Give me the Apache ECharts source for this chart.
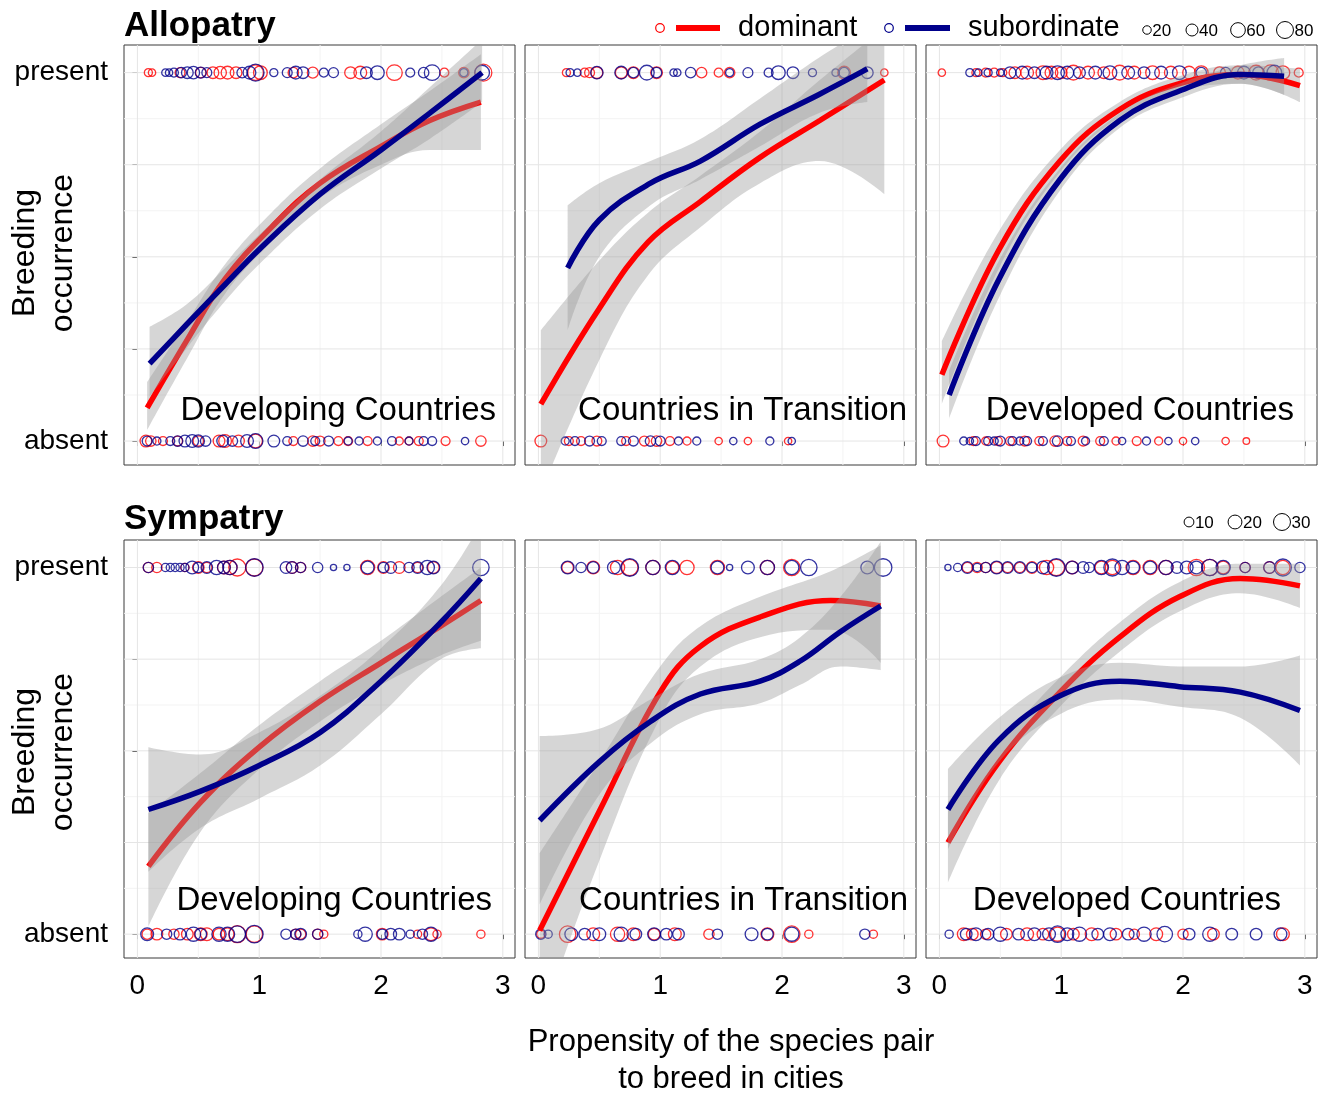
<!DOCTYPE html>
<html>
<head>
<meta charset="utf-8">
<script src="https://cdn.jsdelivr.net/npm/echarts@6/dist/echarts.min.js"></script>
<style>
  html, body { margin: 0; padding: 0; background: #fff; }
  #chart { width: 1325px; height: 1094px; }
</style>
</head>
<body>
<div id="chart"></div>
<script>
// ---- axis definitions ----
const xTicks = [0, 1, 2, 3];
const xMinor = [0.5, 1.5, 2.5];
const yTicks = [0, 0.25, 0.5, 0.75, 1];
const yMinor = [0.125, 0.375, 0.625, 0.875];
const yTickLabels = ['absent', 'present'];   // for y = 0 and y = 1
const panelNames = ['Developing Countries', 'Countries in Transition', 'Developed Countries'];
const rowTitles = ['Allopatry', 'Sympatry'];
const seriesNames = ['dominant', 'subordinate'];
const sizeLegendAllo = [20, 40, 60, 80];
const sizeLegendSym = [10, 20, 30];

// ---- fitted curves: [x, fit, lower, upper] ----
const devAlloDom = [[0.08,0.09,0.03,0.16],[0.4,0.27,0.22,0.32],[0.72,0.44,0.40,0.48],[1.1,0.58,0.54,0.62],[1.5,0.70,0.66,0.74],[2.0,0.80,0.75,0.86],[2.4,0.87,0.79,0.95],[2.82,0.92,0.79,1.05]];
const devAlloSub = [[0.1,0.21,0.12,0.31],[0.4,0.315,0.25,0.37],[0.72,0.425,0.38,0.47],[1.0,0.52,0.48,0.56],[1.5,0.67,0.63,0.71],[2.0,0.79,0.74,0.84],[2.4,0.89,0.82,0.96],[2.83,1.0,0.92,1.09]];
const tranAlloDom = [[0.02,0.10,-0.14,0.30],[0.5,0.36,0.22,0.49],[0.9,0.54,0.45,0.62],[1.33,0.65,0.58,0.72],[1.82,0.77,0.70,0.84],[2.31,0.87,0.76,0.98],[2.84,0.98,0.67,1.12]];
const tranAlloSub = [[0.24,0.47,0.30,0.64],[0.5,0.60,0.50,0.70],[0.92,0.70,0.64,0.76],[1.33,0.76,0.71,0.82],[1.82,0.86,0.80,0.93],[2.3,0.94,0.89,1.04],[2.70,1.01,0.92,1.12]];
const dvdAlloDom = [[0.02,0.18,0.10,0.27],[0.49,0.52,0.47,0.57],[0.99,0.76,0.73,0.79],[1.48,0.90,0.88,0.92],[1.97,0.97,0.95,0.99],[2.47,0.995,0.97,1.02],[2.96,0.965,0.92,1.01]];
const dvdAlloSub = [[0.08,0.125,0.06,0.19],[0.49,0.44,0.39,0.49],[0.99,0.71,0.68,0.74],[1.48,0.87,0.85,0.89],[1.97,0.95,0.93,0.97],[2.47,0.995,0.97,1.02],[2.83,0.99,0.94,1.04]];
const devSymDom = [[0.09,0.185,0.02,0.33],[0.52,0.36,0.28,0.44],[1.0,0.51,0.45,0.57],[1.5,0.635,0.58,0.69],[2.0,0.74,0.68,0.80],[2.49,0.84,0.76,0.92],[2.82,0.91,0.80,1.0]];
const devSymSub = [[0.09,0.34,0.17,0.51],[0.52,0.39,0.29,0.49],[1.0,0.46,0.37,0.55],[1.5,0.55,0.46,0.65],[2.0,0.69,0.60,0.78],[2.49,0.85,0.75,0.95],[2.82,0.97,0.78,1.12]];
const tranSymDom = [[0.01,0.01,-0.25,0.22],[0.5,0.335,0.20,0.47],[1.0,0.66,0.59,0.73],[1.33,0.785,0.73,0.84],[1.82,0.865,0.81,0.92],[2.4,0.91,0.83,0.99],[2.81,0.895,0.74,1.06]];
const tranSymSub = [[0.01,0.31,0.08,0.54],[0.5,0.47,0.38,0.56],[0.92,0.58,0.52,0.64],[1.33,0.655,0.60,0.71],[1.82,0.69,0.63,0.75],[2.15,0.745,0.68,0.81],[2.48,0.825,0.73,0.92],[2.81,0.895,0.72,1.07]];
const dvdSymDom = [[0.07,0.25,0.14,0.36],[0.49,0.47,0.42,0.52],[0.99,0.66,0.62,0.70],[1.48,0.81,0.77,0.85],[1.97,0.92,0.88,0.96],[2.47,0.97,0.93,1.01],[2.96,0.95,0.89,1.01]];
const dvdSymSub = [[0.07,0.34,0.23,0.45],[0.49,0.53,0.47,0.59],[0.99,0.65,0.60,0.70],[1.48,0.69,0.64,0.74],[1.97,0.675,0.62,0.73],[2.47,0.66,0.59,0.73],[2.96,0.61,0.46,0.76]];

// ---- observations: [propensity, number of cases] ----
const devAlloDomPresent = [[0.09,18],[0.12,15],[0.35,27],[0.52,30],[0.62,38],[0.68,42],[0.74,45],[0.81,38],[0.97,68],[1.01,52],[1.28,30],[1.44,33],[1.75,38],[1.83,45],[2.11,68],[2.52,22],[2.68,30],[2.84,80]];
const devAlloSubPresent = [[0.23,15],[0.26,15],[0.30,22],[0.36,30],[0.41,38],[0.46,42],[0.52,33],[0.57,27],[0.86,30],[0.92,45],[0.97,80],[1.12,18],[1.23,27],[1.30,45],[1.36,38],[1.53,22],[1.61,27],[1.88,38],[1.97,52],[2.24,22],[2.35,30],[2.42,68],[2.68,18],[2.83,60]];
const devAlloDomAbsent = [[0.07,38],[0.11,30],[0.21,22],[0.33,27],[0.50,30],[0.67,38],[0.72,45],[0.83,38],[0.97,52],[1.28,22],[1.44,30],[1.50,27],[1.65,22],[1.73,22],[1.89,22],[2.15,18],[2.23,18],[2.31,22],[2.53,22],[2.82,30]];
const devAlloSubAbsent = [[0.08,27],[0.16,18],[0.27,22],[0.33,30],[0.39,38],[0.45,45],[0.50,42],[0.56,30],[0.70,38],[0.78,30],[0.90,45],[0.97,60],[1.12,38],[1.23,22],[1.36,30],[1.46,22],[1.57,27],[1.73,18],[1.82,18],[1.97,18],[2.09,22],[2.23,18],[2.35,22],[2.42,22],[2.69,15]];

const tranAlloDomPresent = [[0.23,18],[0.38,22],[0.42,27],[0.48,38],[0.68,38],[0.78,38],[0.97,38],[1.34,30],[1.48,22],[1.57,30],[2.51,45],[2.84,15]];
const tranAlloSubPresent = [[0.26,18],[0.32,15],[0.48,42],[0.68,45],[0.78,30],[0.89,60],[0.97,30],[1.11,15],[1.14,15],[1.25,30],[1.57,18],[1.72,27],[1.89,22],[1.97,52],[2.09,38],[2.25,18],[2.44,15],[2.51,30],[2.70,38]];
const tranAlloDomAbsent = [[0.02,38],[0.25,22],[0.35,22],[0.48,27],[0.72,22],[0.87,27],[0.97,30],[1.08,22],[1.22,18],[1.48,15],[1.72,15],[2.05,15]];
const tranAlloSubAbsent = [[0.22,18],[0.30,22],[0.42,27],[0.52,22],[0.68,22],[0.78,27],[0.92,30],[1.0,27],[1.15,18],[1.30,18],[1.60,15],[1.90,18],[2.08,15]];

const dvdAlloDomPresent = [[0.02,15],[0.30,18],[0.38,22],[0.45,22],[0.52,18],[0.62,38],[0.72,45],[0.85,52],[0.92,45],[1.00,38],[1.10,60],[1.22,45],[1.35,38],[1.48,60],[1.60,45],[1.75,52],[1.90,45],[2.05,45],[2.15,52],[2.30,38],[2.45,45],[2.60,60],[2.72,68],[2.82,52],[2.95,22]];
const dvdAlloSubPresent = [[0.25,18],[0.32,15],[0.40,18],[0.50,15],[0.58,38],[0.68,45],[0.78,38],[0.88,45],[0.97,52],[1.05,45],[1.15,38],[1.28,45],[1.40,52],[1.55,45],[1.68,38],[1.82,45],[1.97,52],[2.15,30],[2.35,30],[2.50,45],[2.62,38],[2.75,60]];
const dvdAlloDomAbsent = [[0.03,38],[0.28,22],[0.38,18],[0.48,22],[0.58,22],[0.70,27],[0.82,22],[0.95,30],[1.05,22],[1.18,27],[1.32,22],[1.45,18],[1.62,22],[1.80,18],[2.00,15],[2.35,15],[2.52,12]];
const dvdAlloSubAbsent = [[0.20,18],[0.25,15],[0.30,22],[0.40,22],[0.45,18],[0.50,27],[0.60,22],[0.66,18],[0.72,22],[0.85,22],[0.97,30],[1.08,22],[1.20,18],[1.35,22],[1.50,15],[1.70,18],[1.88,15],[2.10,15]];

const devSymDomPresent = [[0.09,11],[0.16,11],[0.39,7],[0.50,14],[0.57,11],[0.71,17],[0.76,21],[0.82,30],[0.96,30],[1.27,14],[1.34,11],[1.89,21],[2.02,14],[2.15,14],[2.30,11],[2.43,14]];
const devSymSubPresent = [[0.09,11],[0.23,7],[0.27,7],[0.31,7],[0.35,7],[0.39,7],[0.45,17],[0.50,11],[0.57,14],[0.65,21],[0.71,17],[0.76,21],[0.96,32],[1.22,14],[1.27,14],[1.34,11],[1.48,11],[1.61,4],[1.72,4],[1.89,17],[2.02,11],[2.08,14],[2.23,11],[2.30,14],[2.38,21],[2.43,17],[2.82,28]];
const devSymDomAbsent = [[0.08,11],[0.16,14],[0.30,11],[0.41,14],[0.52,17],[0.57,17],[0.67,14],[0.74,17],[0.82,30],[0.96,28],[1.30,11],[1.34,11],[1.48,11],[1.53,7],[2.01,14],[2.30,7],[2.41,17],[2.46,7],[2.82,7]];
const devSymSubAbsent = [[0.08,17],[0.24,11],[0.35,14],[0.46,21],[0.52,14],[0.67,21],[0.74,21],[0.82,28],[0.96,32],[1.22,11],[1.30,11],[1.34,14],[1.48,11],[1.81,7],[1.87,21],[2.01,11],[2.08,14],[2.15,14],[2.24,7],[2.34,11],[2.41,21]];

const tranSymDomPresent = [[0.24,14],[0.45,17],[0.65,21],[0.75,28],[0.94,21],[1.10,17],[1.22,21],[1.47,21],[1.88,21],[2.08,28]];
const tranSymSubPresent = [[0.24,17],[0.35,11],[0.45,14],[0.62,17],[0.75,32],[0.94,21],[1.10,21],[1.47,17],[1.57,4],[1.72,17],[1.88,21],[2.08,21],[2.22,28],[2.70,17],[2.83,32]];
const tranSymDomAbsent = [[0.02,7],[0.24,28],[0.45,17],[0.65,21],[0.78,17],[0.95,14],[1.12,17],[1.40,11],[1.88,17],[2.08,28],[2.22,7],[2.75,7]];
const tranSymSubAbsent = [[0.02,11],[0.08,7],[0.27,17],[0.38,14],[0.50,17],[0.68,21],[0.80,14],[0.95,17],[1.05,14],[1.15,14],[1.47,11],[1.75,17],[1.88,14],[2.08,21],[2.68,11]];

const dvdSymDomPresent = [[0.23,11],[0.31,11],[0.38,11],[0.47,14],[0.56,11],[0.66,11],[0.76,14],[0.88,21],[0.96,28],[1.09,17],[1.33,17],[1.42,21],[1.59,21],[1.73,21],[1.86,21],[2.11,28],[2.22,28],[2.33,17],[2.51,11],[2.71,14],[2.82,21]];
const dvdSymSubPresent = [[0.07,4],[0.15,7],[0.23,14],[0.31,7],[0.38,11],[0.47,17],[0.56,14],[0.66,14],[0.76,11],[0.85,17],[0.96,32],[1.09,17],[1.18,14],[1.23,11],[1.33,21],[1.42,30],[1.50,21],[1.59,17],[1.73,17],[1.86,21],[1.95,14],[2.03,17],[2.11,17],[2.22,28],[2.33,21],[2.51,11],[2.71,14],[2.82,30],[2.96,11]];
const dvdSymDomAbsent = [[0.20,17],[0.27,14],[0.38,11],[0.55,14],[0.72,17],[0.85,14],[0.97,21],[1.10,14],[1.25,17],[1.45,14],[1.60,11],[1.78,17],[2.00,11],[2.25,14],[2.82,17]];
const dvdSymSubAbsent = [[0.08,7],[0.22,14],[0.30,17],[0.40,14],[0.50,21],[0.65,14],[0.78,17],[0.90,17],[0.97,28],[1.05,17],[1.15,21],[1.30,14],[1.40,17],[1.55,14],[1.68,21],[1.85,25],[2.05,14],[2.22,21],[2.40,14],[2.60,14],[2.80,17]];

// ---- panel configuration ----
const panels = [
  { row: 0, col: 0, dom: devAlloDom, sub: devAlloSub, domP: devAlloDomPresent, domA: devAlloDomAbsent, subP: devAlloSubPresent, subA: devAlloSubAbsent },
  { row: 0, col: 1, dom: tranAlloDom, sub: tranAlloSub, domP: tranAlloDomPresent, domA: tranAlloDomAbsent, subP: tranAlloSubPresent, subA: tranAlloSubAbsent },
  { row: 0, col: 2, dom: dvdAlloDom, sub: dvdAlloSub, domP: dvdAlloDomPresent, domA: dvdAlloDomAbsent, subP: dvdAlloSubPresent, subA: dvdAlloSubAbsent },
  { row: 1, col: 0, dom: devSymDom, sub: devSymSub, domP: devSymDomPresent, domA: devSymDomAbsent, subP: devSymSubPresent, subA: devSymSubAbsent },
  { row: 1, col: 1, dom: tranSymDom, sub: tranSymSub, domP: tranSymDomPresent, domA: tranSymDomAbsent, subP: tranSymSubPresent, subA: tranSymSubAbsent },
  { row: 1, col: 2, dom: dvdSymDom, sub: dvdSymSub, domP: dvdSymDomPresent, domA: dvdSymDomAbsent, subP: dvdSymSubPresent, subA: dvdSymSubAbsent }
];

// ---- styling ----
const FONT = '"Liberation Sans", Arial, Helvetica, sans-serif';
const RED = '#ff0000';
const BLUE = '#00008b';
const BAND = 'rgba(153,153,153,0.4)';
const colLeft = [124, 525, 926];
const colWidth = 391;
const rowTop = [45, 540];
const rowHeight = [420, 418];
const sizeK = [1.9, 3.1];          // symbol diameter per sqrt(count), per row
const SMOOTH = 0.4;

const grids = [], xAxes = [], yAxes = [], series = [];

panels.forEach((p, i) => {
  grids.push({
    left: colLeft[p.col], top: rowTop[p.row], width: colWidth, height: rowHeight[p.row],
    show: true, backgroundColor: '#fff', borderColor: '#3a3a3a', borderWidth: 1
  });
  xAxes.push({
    gridIndex: i, type: 'value', min: -0.11, max: 3.1,
    axisLine: { show: false },
    splitLine: { show: false },
    axisTick: { show: true, customValues: xTicks, length: 5, lineStyle: { color: '#333', width: 1 } },
    axisLabel: {
      show: p.row === 1, customValues: xTicks, fontSize: 28, color: '#000',
      fontFamily: FONT, margin: 14, formatter: v => String(v)
    }
  });
  yAxes.push({
    gridIndex: i, type: 'value', min: -0.065, max: 1.075,
    axisLine: { show: false },
    splitLine: { show: false },
    axisTick: { show: p.col === 0, customValues: yTicks, length: 5, lineStyle: { color: '#333', width: 1 } },
    axisLabel: {
      show: p.col === 0, customValues: [0, 1], fontSize: 28, color: '#000',
      fontFamily: FONT, margin: 16, formatter: v => (v === 1 ? yTickLabels[1] : yTickLabels[0])
    }
  });

  // panel grid lines
  series.push({
    type: 'custom', xAxisIndex: i, yAxisIndex: i, silent: true, z: 1,
    data: [[0, 0]],
    renderItem: (params, api) => {
      const cs = params.coordSys;
      const kids = [];
      const vline = (v, c) => { const x = api.coord([v, 0])[0]; kids.push({ type: 'line', shape: { x1: x, y1: cs.y, x2: x, y2: cs.y + cs.height }, style: { stroke: c, lineWidth: 1 } }); };
      const hline = (v, c) => { const y = api.coord([0, v])[1]; kids.push({ type: 'line', shape: { x1: cs.x, y1: y, x2: cs.x + cs.width, y2: y }, style: { stroke: c, lineWidth: 1 } }); };
      xMinor.forEach(v => vline(v, '#f3f3f3'));
      yMinor.forEach(v => hline(v, '#f3f3f3'));
      xTicks.forEach(v => vline(v, '#e5e5e5'));
      yTicks.forEach(v => hline(v, '#e5e5e5'));
      return { type: 'group', children: kids };
    }
  });

  // observed pairs at present (1) / absent (0)
  const k = sizeK[p.row];
  const pts = (present, absent) => present.map(d => [d[0], 1, d[1]]).concat(absent.map(d => [d[0], 0, d[1]]));
  [[pts(p.domP, p.domA), RED], [pts(p.subP, p.subA), BLUE]].forEach(([data, col]) => {
    series.push({
      type: 'scatter', xAxisIndex: i, yAxisIndex: i, z: 2, silent: true,
      data: data, symbol: 'circle',
      symbolSize: d => k * Math.sqrt(d[2]),
      itemStyle: { color: 'rgba(0,0,0,0)', borderColor: col, borderWidth: 1.3 }
    });
  });

  // confidence band + fitted line for each group.
  // Band rows are stored as [y, x] with encode so that stacking acts on y (by index).
  const addFit = (curve, col, key, z) => {
    series.push({
      type: 'line', xAxisIndex: i, yAxisIndex: i, z: z, silent: true,
      stack: key, stackStrategy: 'all', smooth: SMOOTH, symbol: 'none',
      encode: { x: 1, y: 0 },
      lineStyle: { opacity: 0 },
      data: curve.map(r => [r[2], r[0]])
    });
    series.push({
      type: 'line', xAxisIndex: i, yAxisIndex: i, z: z, silent: true,
      stack: key, stackStrategy: 'all', smooth: SMOOTH, symbol: 'none',
      encode: { x: 1, y: 0 },
      lineStyle: { opacity: 0 },
      areaStyle: { color: BAND, opacity: 1 },
      data: curve.map(r => [r[3] - r[2], r[0]])
    });
    series.push({
      type: 'line', xAxisIndex: i, yAxisIndex: i, z: z + 1, silent: true,
      smooth: SMOOTH, symbol: 'none',
      lineStyle: { color: col, width: 5.5, cap: 'butt' },
      data: curve.map(r => [r[0], r[1]])
    });
  };
  addFit(p.dom, RED, 'domBand' + i, 3);
  addFit(p.sub, BLUE, 'subBand' + i, 5);
});

// ---- titles, legends and labels ----
const graphics = [];
const txt = (x, y, s, size, opts) => graphics.push(Object.assign({
  type: 'text', x: x, y: y, z: 50,
  style: Object.assign({ text: s, fontFamily: FONT, fontSize: size, fill: '#000', textAlign: 'left', textVerticalAlign: 'middle' }, opts || {})
}));

txt(124, 26, rowTitles[0], 35, { fontWeight: 'bold' });
txt(124, 519, rowTitles[1], 35, { fontWeight: 'bold' });

// panel captions
const captionRight = [[496, 907, 1294], [492, 908, 1281]];
const captionY = [411, 901];
panels.forEach(p => txt(captionRight[p.row][p.col], captionY[p.row], panelNames[p.col], 33, { textAlign: 'right' }));

// y-axis titles
[253, 752].forEach(cy => {
  graphics.push({
    type: 'text', x: 44, y: cy, rotation: Math.PI / 2, z: 50,
    style: { text: 'Breeding\noccurrence', fontFamily: FONT, fontSize: 32, lineHeight: 38, fill: '#000', textAlign: 'center', textVerticalAlign: 'middle' }
  });
});

// x-axis title
txt(731, 1061, 'Propensity of the species pair\nto breed in cities', 31, { textAlign: 'center', lineHeight: 37 });

// colour legend
const legendY = 28;
[[660, 676, 720, 738, RED, seriesNames[0]], [889, 905, 950, 968, BLUE, seriesNames[1]]].forEach(([cx, l1, l2, tx, col, name]) => {
  graphics.push({ type: 'circle', z: 50, shape: { cx: cx, cy: legendY, r: 4.3 }, style: { fill: 'none', stroke: col, lineWidth: 1.2 } });
  graphics.push({ type: 'line', z: 50, shape: { x1: l1, y1: legendY, x2: l2, y2: legendY }, style: { stroke: col, lineWidth: 6 } });
  txt(tx, legendY, name, 29);
});

// size legends
const sizeLegend = (vals, xs, cy, k) => {
  vals.forEach((v, j) => {
    const r = k * Math.sqrt(v) / 2;
    graphics.push({ type: 'circle', z: 50, shape: { cx: xs[j], cy: cy, r: r }, style: { fill: 'none', stroke: '#000', lineWidth: 1 } });
    txt(xs[j] + r + 1, cy + 1, String(v), 17);
  });
};
sizeLegend(sizeLegendAllo, [1147, 1192, 1238, 1285], 30, sizeK[0]);
sizeLegend(sizeLegendSym, [1189, 1235, 1282], 522, sizeK[1]);

const chart = echarts.init(document.getElementById('chart'), null, { renderer: 'canvas' });
chart.setOption({
  animation: false,
  backgroundColor: '#fff',
  grid: grids,
  xAxis: xAxes,
  yAxis: yAxes,
  series: series,
  graphic: { elements: graphics }
});
</script>
</body>
</html>
